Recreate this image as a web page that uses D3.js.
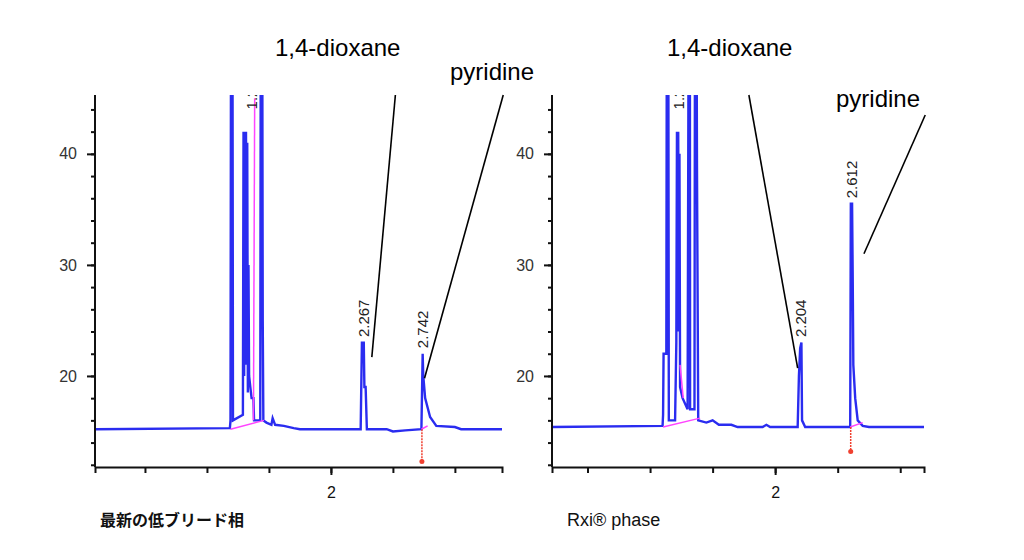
<!DOCTYPE html><html><head><meta charset="utf-8">
<script src="https://cdn.jsdelivr.net/npm/d3@7"></script>
<style>body{margin:0;background:#fff}text{font-family:Arial,"Liberation Sans",sans-serif}</style></head><body>
<svg id="c" width="1024" height="560"></svg>
<script>
const yTicks=[20,30,40];
const xTicks=[2];
const leftTrace=[[0.1,15.2],[1.185,15.3],[1.19,16],[1.195,60],[1.205,60],[1.21,16],[1.29,16.5],[1.295,42],[1.30,20],[1.305,42],[1.31,21],[1.315,42],[1.32,22],[1.325,41],[1.33,18.5],[1.335,30],[1.34,20],[1.35,19],[1.36,18],[1.375,18],[1.38,16],[1.43,16],[1.435,60],[1.445,60],[1.45,25],[1.455,16],[1.48,15.8],[1.52,15.6],[1.53,16.2],[1.55,15.6],[1.62,15.5],[1.7,15.3],[1.75,15.2],[2.24,15.2],[2.25,23],[2.265,23],[2.27,19],[2.28,19],[2.29,15.2],[2.45,15.2],[2.5,15],[2.6,15.1],[2.73,15.2],[2.74,22],[2.745,20],[2.76,18],[2.8,16.3],[2.85,15.5],[3.0,15.4],[3.05,15.2],[3.38,15.2]];
const rightTrace=[[0.216,15.4],[1.1,15.5],[1.104,16.5],[1.108,22],[1.13,22],[1.135,60],[1.145,60],[1.15,16],[1.2,16],[1.21,23],[1.215,42],[1.22,24],[1.225,42],[1.23,26],[1.235,40],[1.24,19],[1.26,18],[1.3,17],[1.31,60],[1.318,60],[1.32,17],[1.355,17],[1.36,60],[1.37,60],[1.375,39],[1.385,16],[1.45,15.8],[1.5,16],[1.55,15.6],[1.65,15.6],[1.7,15.4],[1.9,15.4],[1.93,15.6],[1.96,15.4],[2.18,15.4],[2.19,20],[2.2,22.5],[2.21,23],[2.215,16],[2.24,15.4],[2.6,15.4],[2.605,35.5],[2.615,35.5],[2.62,29],[2.625,21],[2.64,18],[2.66,16],[2.7,15.5],[2.75,15.4],[3.19,15.4]];
const leftPink=[[[1.19,15.2],[1.46,16]],[[1.375,16],[1.385,45]],[[2.73,15.2],[2.78,15.5]]];
const rightPink=[[[1.104,15.4],[1.4,16.2]],[[1.24,21],[1.265,18]],[[2.6,15.4],[2.7,15.8]]];
const leftPeaks=[{t:2.267,v:23.5,label:"2.267"},{t:2.742,v:22.5,label:"2.742"},{t:1.36,v:44,label:"1.23"}];
const rightPeaks=[{t:2.204,v:23.5,label:"2.204"},{t:2.612,v:36,label:"2.612"},{t:1.23,v:44,label:"1.2"}];
const leftArrow={t:2.734,v0:15.2,v1:12.3};
const rightArrow={t:2.604,v0:15.4,v1:13.2};
const leftAnn=[{text:"1,4-dioxane",x:275,y:56,line:[[2.52,45.3],[2.33,21.7]]},{text:"pyridine",x:450,y:80,line:[[3.39,45.3],[2.755,19.8]]}];
const rightAnn=[{text:"1,4-dioxane",x:667,y:56,line:[[1.79,45.3],[2.18,20.7]]},{text:"pyridine",x:836,y:107,line:[[3.2,43.5],[2.71,31]]}];
const bottomLabels=[{text:"最新の低ブリード相",x:100,font:"bold 16px 'Noto Sans CJK JP'"},{text:"Rxi® phase",x:567,font:"18px Arial"}];

const svg=d3.select("#c");
function panel(id,x0,x1,xd,trace,pink,peaks,arrow,ann,bl){
  const x=d3.scaleLinear().domain(xd).range([x0,x1]);
  const y=d3.scaleLinear().domain([11.8,45.3]).range([467,95]);
  const g=svg.append("g");
  g.append("clipPath").attr("id",id).append("rect").attr("x",x0).attr("y",95).attr("width",x1-x0).attr("height",372);
  const pg=g.append("g").attr("clip-path",`url(#${id})`);
  const line=d3.line().x(d=>x(d[0])).y(d=>y(d[1]));
  pg.append("path").attr("d",line(trace)).attr("fill","none").attr("stroke","#2a2cf0").attr("stroke-width",2.4);
  pink.forEach(p=>pg.append("path").attr("d",line(p)).attr("stroke","#ff44ff").attr("stroke-width",1.5).attr("fill","none"));
  pg.append("line").attr("x1",x(arrow.t)).attr("x2",x(arrow.t)).attr("y1",y(arrow.v0)).attr("y2",y(arrow.v1)).attr("stroke","#f04030").attr("stroke-width",1.5).attr("stroke-dasharray","2,1");
  pg.append("circle").attr("cx",x(arrow.t)).attr("cy",y(arrow.v1)).attr("r",2.5).attr("fill","#f04030");
  peaks.forEach(p=>pg.append("text").attr("transform",`translate(${x(p.t)+5},${y(p.v)}) rotate(-90)`).attr("font-size",15).attr("fill","#222").text(p.label));
  ann.forEach(a=>{
    svg.append("text").attr("x",a.x).attr("y",a.y).attr("font-size",24).attr("fill","#000").text(a.text);
    g.append("line").attr("x1",x(a.line[0][0])).attr("y1",y(a.line[0][1])).attr("x2",x(a.line[1][0])).attr("y2",y(a.line[1][1])).attr("stroke","#000").attr("stroke-width",1.6);
  });
  const ya=g.append("g").attr("transform",`translate(${x0},0)`).call(d3.axisLeft(y).tickValues(d3.range(12,46,2)).tickSize(4).tickFormat(""));
  g.append("g").attr("transform",`translate(${x0},0)`).call(d3.axisLeft(y).tickValues(yTicks).tickSize(8).tickPadding(10)).call(s=>s.select(".domain").remove()).selectAll("text").attr("font-size",16).attr("fill","#333");
  ya.select(".domain").attr("d",`M-0,467V95`);
  g.append("g").attr("transform","translate(0,467)").call(d3.axisBottom(x).tickValues(d3.range(0.5,xd[1],0.5)).tickSize(6).tickFormat(""));
  g.append("g").attr("transform","translate(0,467)").call(d3.axisBottom(x).tickValues(xTicks).tickSize(8).tickPadding(12).tickFormat(d3.format("d"))).call(s=>s.select(".domain").remove()).selectAll("text").attr("font-size",16).attr("fill","#111");
  g.selectAll(".domain,.tick line").attr("stroke","#111").attr("stroke-width",2);
  svg.append("text").attr("x",bl.x).attr("y",526).style("font",bl.font).attr("fill","#111").text(bl.text);
}
panel("cl",95,502,[0.097,3.38],leftTrace,leftPink,leftPeaks,leftArrow,leftAnn,bottomLabels[0]);
panel("cr",552,924,[0.216,3.19],rightTrace,rightPink,rightPeaks,rightArrow,rightAnn,bottomLabels[1]);
</script></body></html>
